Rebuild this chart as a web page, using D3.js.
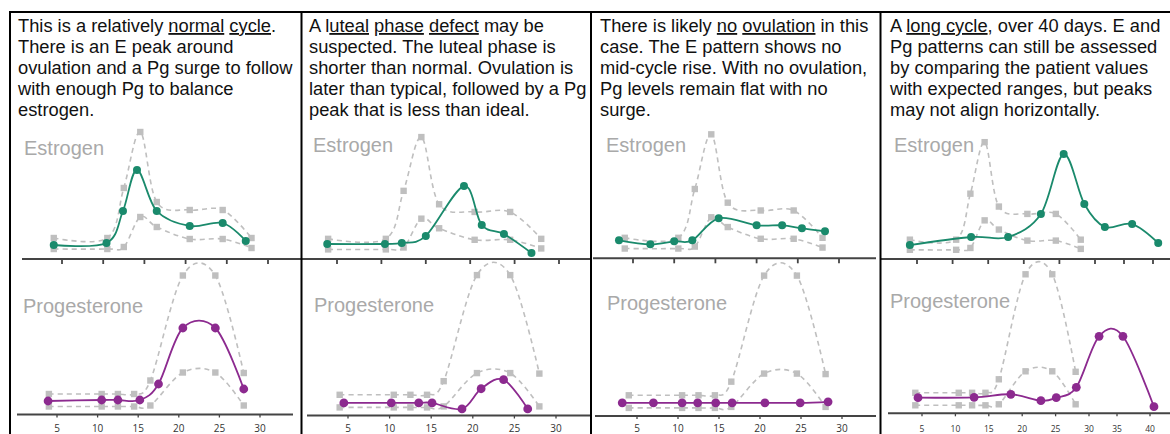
<!DOCTYPE html>
<html>
<head>
<meta charset="utf-8">
<script src="https://cdn.jsdelivr.net/npm/d3@7"></script>
<style>
  body { margin: 0; background: #fff; }
  svg { display: block; font-family: "Liberation Sans", Arial, sans-serif; }
</style>
</head>
<body>
<div class="canva"></div>
<script>
// expected ranges, same for every case
const refDays = [4, 10.5, 12.5, 14.5, 16.5, 20.5, 24.5, 28];
const estUpper = [21, 21, 71, 127, 57, 49, 49, 21];
const estLower = [10, 10, 12, 42, 32, 20, 20, 11];
const progUpper = [20.5, 20.5, 20.5, 20.5, 34, 139, 139, 41.5];
const progLower = [8, 8, 8, 8, 9, 42, 42, 9];

// patient values, case 1: normal cycle
const normalEstDays = [4, 10.4, 12.4, 14.1, 16.5, 20.5, 24.5, 27.3];
const normalEst = [14, 16, 48, 89, 48, 33, 36, 18];
const normalProgDays = [3.9, 10.5, 12.5, 15.2, 17.5, 20.5, 24.5, 28];
const normalProg = [13.5, 14.5, 14.5, 14.5, 30.5, 86.5, 86.5, 25.5];

// case 2: luteal phase defect
const lutealEstDays = [3.9, 10.4, 12.3, 15.0, 19.3, 21.3, 23.8, 26.9];
const lutealEst = [15.6, 15.6, 16.7, 24, 76, 35.4, 26, 6.3];
const lutealProgDays = [4.5, 10.2, 13.5, 15.1, 18.7, 21, 23.7, 26.6];
const lutealProg = [12.5, 12.5, 12.5, 12.5, 6.5, 26.5, 35.5, 6.5];

// case 3: no ovulation
const anovEstDays = [3.3, 7.1, 10.0, 12.2, 15.4, 20.0, 23.1, 25.5, 28.3];
const anovEst = [18.4, 14.3, 17.4, 18.4, 41, 33.8, 33.8, 30.7, 27.7];
const anovProgDays = [3.2, 7, 10.5, 12.4, 14.6, 16.6, 20.6, 24.9, 28.3];
const anovProg = [13, 13, 13, 13, 13, 13, 13, 13, 14];

// case 4: long cycle
const longEstDays = [4.0, 12.6, 17.8, 22.4, 25.6, 28.5, 31.7, 36.4, 40.9];
const longEst = [15.2, 23.9, 23.9, 48.9, 114, 59.8, 34.8, 38, 17.4];
const longProgDays = [4.4, 12.8, 18.3, 22.8, 25.1, 28.1, 31.8, 35.9, 40.6];
const longProg = [15.6, 16, 19, 12.6, 15.6, 26, 77, 77, 6.6];

// tick labels
const ticks30 = [5, 10, 15, 20, 25, 30];
const ticks40 = [5, 10, 15, 20, 25, 30, 35, 40];

// captions: each line is a list of [text, underlined]
const captionNormal = [
  [["This is a relatively ", 0], ["normal", 1], [" ", 0], ["cycle", 1], [".", 0]],
  [["There is an E peak around", 0]],
  [["ovulation and a Pg surge to follow", 0]],
  [["with enough Pg to balance", 0]],
  [["estrogen.", 0]]
];
const captionLuteal = [
  [["A l", 0], ["uteal", 1], [" ", 0], ["phase", 1], [" ", 0], ["defect", 1], [" may be", 0]],
  [["suspected. The luteal phase is", 0]],
  [["shorter than normal. Ovulation is", 0]],
  [["later than typical, followed by a Pg", 0]],
  [["peak that is less than ideal.", 0]]
];
const captionAnov = [
  [["There is likely ", 0], ["no", 1], [" ", 0], ["ovulation", 1], [" in this", 0]],
  [["case. The E pattern shows no", 0]],
  [["mid-cycle rise. With no ovulation,", 0]],
  [["Pg levels remain flat with no", 0]],
  [["surge.", 0]]
];
const captionLong = [
  [["A ", 0], ["long cycle", 1], [", over 40 days. E and", 0]],
  [["Pg patterns can still be assessed", 0]],
  [["by comparing the patient values", 0]],
  [["with expected ranges, but peaks", 0]],
  [["may not align horizontally.", 0]]
];

const green = "#1a8a6c";
const purple = "#8c2a8f";
const grey = "#bfbfbf";

// layout of the four panels
const panels = [
  {caption: captionNormal, textX: 18,
   estDays: normalEstDays, est: normalEst, progDays: normalProgDays, prog: normalProg,
   eDom: [5, 30], eRange: [62, 268], eY: 259, eK: 1, eLine: [22, 301],
   pDom: [5, 30], pRange: [57, 260], pY: 414.5, pK: 1, pLine: [17, 293],
   ticks: ticks30, eLab: [24, 155], pLab: [23, 313]},
  {caption: captionLuteal, textX: 309,
   estDays: lutealEstDays, est: lutealEst, progDays: lutealProgDays, prog: lutealProg,
   eDom: [5, 30], eRange: [337, 559], eY: 259, eK: 0.96, eLine: [302, 591],
   pDom: [5, 30], pRange: [348, 556], pY: 415.5, pK: 1.01, pLine: [307, 590],
   ticks: ticks30, eLab: [313, 152], pLab: [314, 312]},
  {caption: captionAnov, textX: 600,
   estDays: anovEstDays, est: anovEst, progDays: anovProgDays, prog: anovProg,
   eDom: [5, 30], eRange: [633, 839], eY: 258.3, eK: 0.976, eLine: [593, 876],
   pDom: [5, 30], pRange: [637, 842], pY: 416, pK: 1.01, pLine: [595, 876],
   ticks: ticks30, eLab: [606, 152], pLab: [607, 310]},
  {caption: captionLong, textX: 890,
   estDays: longEstDays, est: longEst, progDays: longProgDays, prog: longProg,
   eDom: [5, 30, 35, 40], eRange: [917, 1095, 1124, 1153], eY: 259, eK: 0.92, eLine: [880, 1170],
   pDom: [5, 30, 35, 40], pRange: [922, 1089, 1117, 1150], pY: 413.3, pK: 1, pLine: [888, 1170],
   ticks: ticks40, eLab: [894, 152], pLab: [890, 308]}
];
const borders = [10, 301.5, 591, 880.5];

const svg = d3.select(".canva").append("svg")
  .attr("width", 1170)
  .attr("height", 434);

const curve = d3.curveCardinal.tension(0);

function drawSeries(g, x, y, days, vals, color, r, dashed) {
  const pts = days.map((d, i) => [d, vals[i]]);
  const line = d3.line().x(d => x(d[0])).y(d => y(d[1])).curve(curve);
  g.append("path")
    .datum(pts)
    .attr("d", line)
    .attr("fill", "none")
    .attr("stroke", color)
    .attr("stroke-width", dashed ? 1.6 : 1.8)
    .attr("stroke-dasharray", dashed ? "5,4" : null);
  if (dashed) {
    g.selectAll(null).data(pts).enter().append("rect")
      .attr("x", d => x(d[0]) - 3.2)
      .attr("y", d => y(d[1]) - 3.2)
      .attr("width", 6.4).attr("height", 6.4)
      .attr("fill", color);
  } else {
    g.selectAll(null).data(pts).enter().append("circle")
      .attr("cx", d => x(d[0]))
      .attr("cy", d => y(d[1]))
      .attr("r", r)
      .attr("fill", color);
  }
}

panels.forEach(p => {
  const g = svg.append("g");

  // caption text
  p.caption.forEach((line, li) => {
    const t = g.append("text")
      .attr("x", p.textX)
      .attr("y", 32 + li * 21.1)
      .style("font-size", "18.3px")
      .attr("fill", "#111")
      .attr("xml:space", "preserve");
    line.forEach(seg => {
      t.append("tspan")
        .text(seg[0])
        .style("text-decoration", seg[1] ? "underline" : "none");
    });
  });

  const xE = d3.scaleLinear().domain(p.eDom).range(p.eRange);
  const yE = d3.scaleLinear().domain([0, 100]).range([p.eY, p.eY - 100 * p.eK]);
  const xP = d3.scaleLinear().domain(p.pDom).range(p.pRange);
  const yP = d3.scaleLinear().domain([0, 100]).range([p.pY, p.pY - 100 * p.pK]);

  // hormone labels
  g.append("text").attr("x", p.eLab[0]).attr("y", p.eLab[1])
    .text("Estrogen").attr("fill", "#a9a9a9").style("font-size", "20px");
  g.append("text").attr("x", p.pLab[0]).attr("y", p.pLab[1])
    .text("Progesterone").attr("fill", "#a9a9a9").style("font-size", "20px");

  // expected ranges
  drawSeries(g, xE, yE, refDays, estUpper, grey, 0, true);
  drawSeries(g, xE, yE, refDays, estLower, grey, 0, true);
  drawSeries(g, xP, yP, refDays, progUpper, grey, 0, true);
  drawSeries(g, xP, yP, refDays, progLower, grey, 0, true);

  // patient
  drawSeries(g, xE, yE, p.estDays, p.est, green, 4, false);
  drawSeries(g, xP, yP, p.progDays, p.prog, purple, 4.4, false);

  // estrogen axis (ticks only)
  g.append("line")
    .attr("x1", p.eLine[0]).attr("x2", p.eLine[1])
    .attr("y1", p.eY).attr("y2", p.eY)
    .attr("stroke", "#444").attr("stroke-width", 2);
  g.selectAll(null).data(p.ticks).enter().append("line")
    .attr("x1", d => xE(d)).attr("x2", d => xE(d))
    .attr("y1", p.eY).attr("y2", p.eY + 5)
    .attr("stroke", "#444").attr("stroke-width", 1.8);

  // progesterone axis with labels
  g.append("line")
    .attr("x1", p.pLine[0]).attr("x2", p.pLine[1])
    .attr("y1", p.pY).attr("y2", p.pY)
    .attr("stroke", "#444").attr("stroke-width", 2);
  g.selectAll(null).data(p.ticks).enter().append("line")
    .attr("x1", d => xP(d)).attr("x2", d => xP(d))
    .attr("y1", p.pY).attr("y2", p.pY + 3)
    .attr("stroke", "#444").attr("stroke-width", 1.3);
  g.selectAll(null).data(p.ticks).enter().append("text")
    .attr("x", d => xP(d))
    .attr("y", 431.5)
    .attr("text-anchor", "middle")
    .attr("fill", "#333")
    .style("font-size", p.ticks.length > 6 ? "8.5px" : "10px")
    .style("font-family", "'Open Sans', sans-serif")
    .text(d => d);
});

// table borders
svg.append("line")
  .attr("x1", 9).attr("x2", 1170).attr("y1", 12).attr("y2", 12)
  .attr("stroke", "#000").attr("stroke-width", 2);
svg.selectAll(null).data(borders).enter().append("line")
  .attr("x1", d => d).attr("x2", d => d)
  .attr("y1", 11).attr("y2", 434)
  .attr("stroke", "#000").attr("stroke-width", 2);
</script>
</body>
</html>
